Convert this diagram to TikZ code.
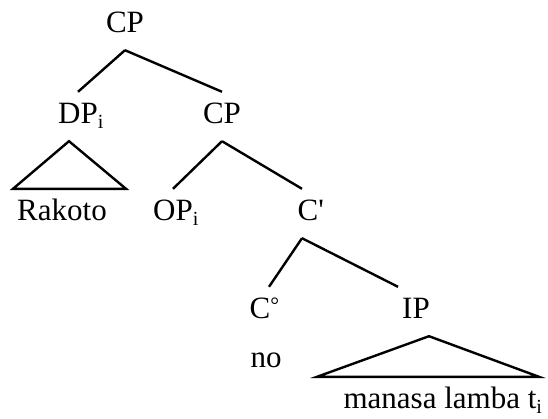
\documentclass[tikz,border=0pt]{standalone}
\usepackage{fontspec}
\setmainfont{Liberation Serif}
\newcommand{\idx}[1]{\rlap{\raisebox{-5pt}{\fontsize{20}{20}\selectfont #1}}}

\begin{document}
\begin{tikzpicture}[x=1pt, y=-1pt, line width=2.4pt,
                    lbl/.style={anchor=base, inner xsep=0pt, inner ysep=10pt, text height=20pt, text depth=7pt, font=\fontsize{31}{36}\selectfont}]
                    \useasboundingbox (0,0) rectangle (548,418);

                    \node[lbl] (cp) at (125,32) {CP};
                    \node[lbl] (dp) at (78,123) {DP\idx{i}};
                    \node[lbl] (cp2) at (222,123) {CP};
                    \node[lbl] (rakoto) at (62,220) {Rakoto};
                    \node[lbl] (op) at (173,220) {OP\idx{i}};
                    \node[lbl] (cbar) at (308,220) {C\rlap{\textquotesingle}};
                    \node[lbl] (chead) at (260,318) {C\rlap{\raisebox{6pt}{\fontsize{22}{22}\selectfont°}}};
                    \node[lbl] (ip) at (416,318) {IP};
                    \node[lbl] (no) at (266,367) {no};
                    \node[lbl] (words) at (440,408) {manasa lamba t\idx{i}};

                    \draw (cp.south) -- (dp.north);
                    \draw (cp.south) -- (cp2.north);
                    \draw ([xshift=-9pt]dp.south) -- ([xshift=-49pt]rakoto.north) -- ([xshift=64pt]rakoto.north) -- cycle;
                    \draw (cp2.south) -- (op.north);
                    \draw (cp2.south) -- ([xshift=-6pt]cbar.north);
                    \draw ([xshift=-6pt]cbar.south) -- ([xshift=9pt]chead.north);
                    \draw ([xshift=-6pt]cbar.south) -- ([xshift=-18pt]ip.north);
                    \draw ([xshift=13pt]ip.south) -- ([xshift=-123pt]words.north) -- ([xshift=99pt]words.north) -- cycle;

                \end{tikzpicture}
\end{document}
